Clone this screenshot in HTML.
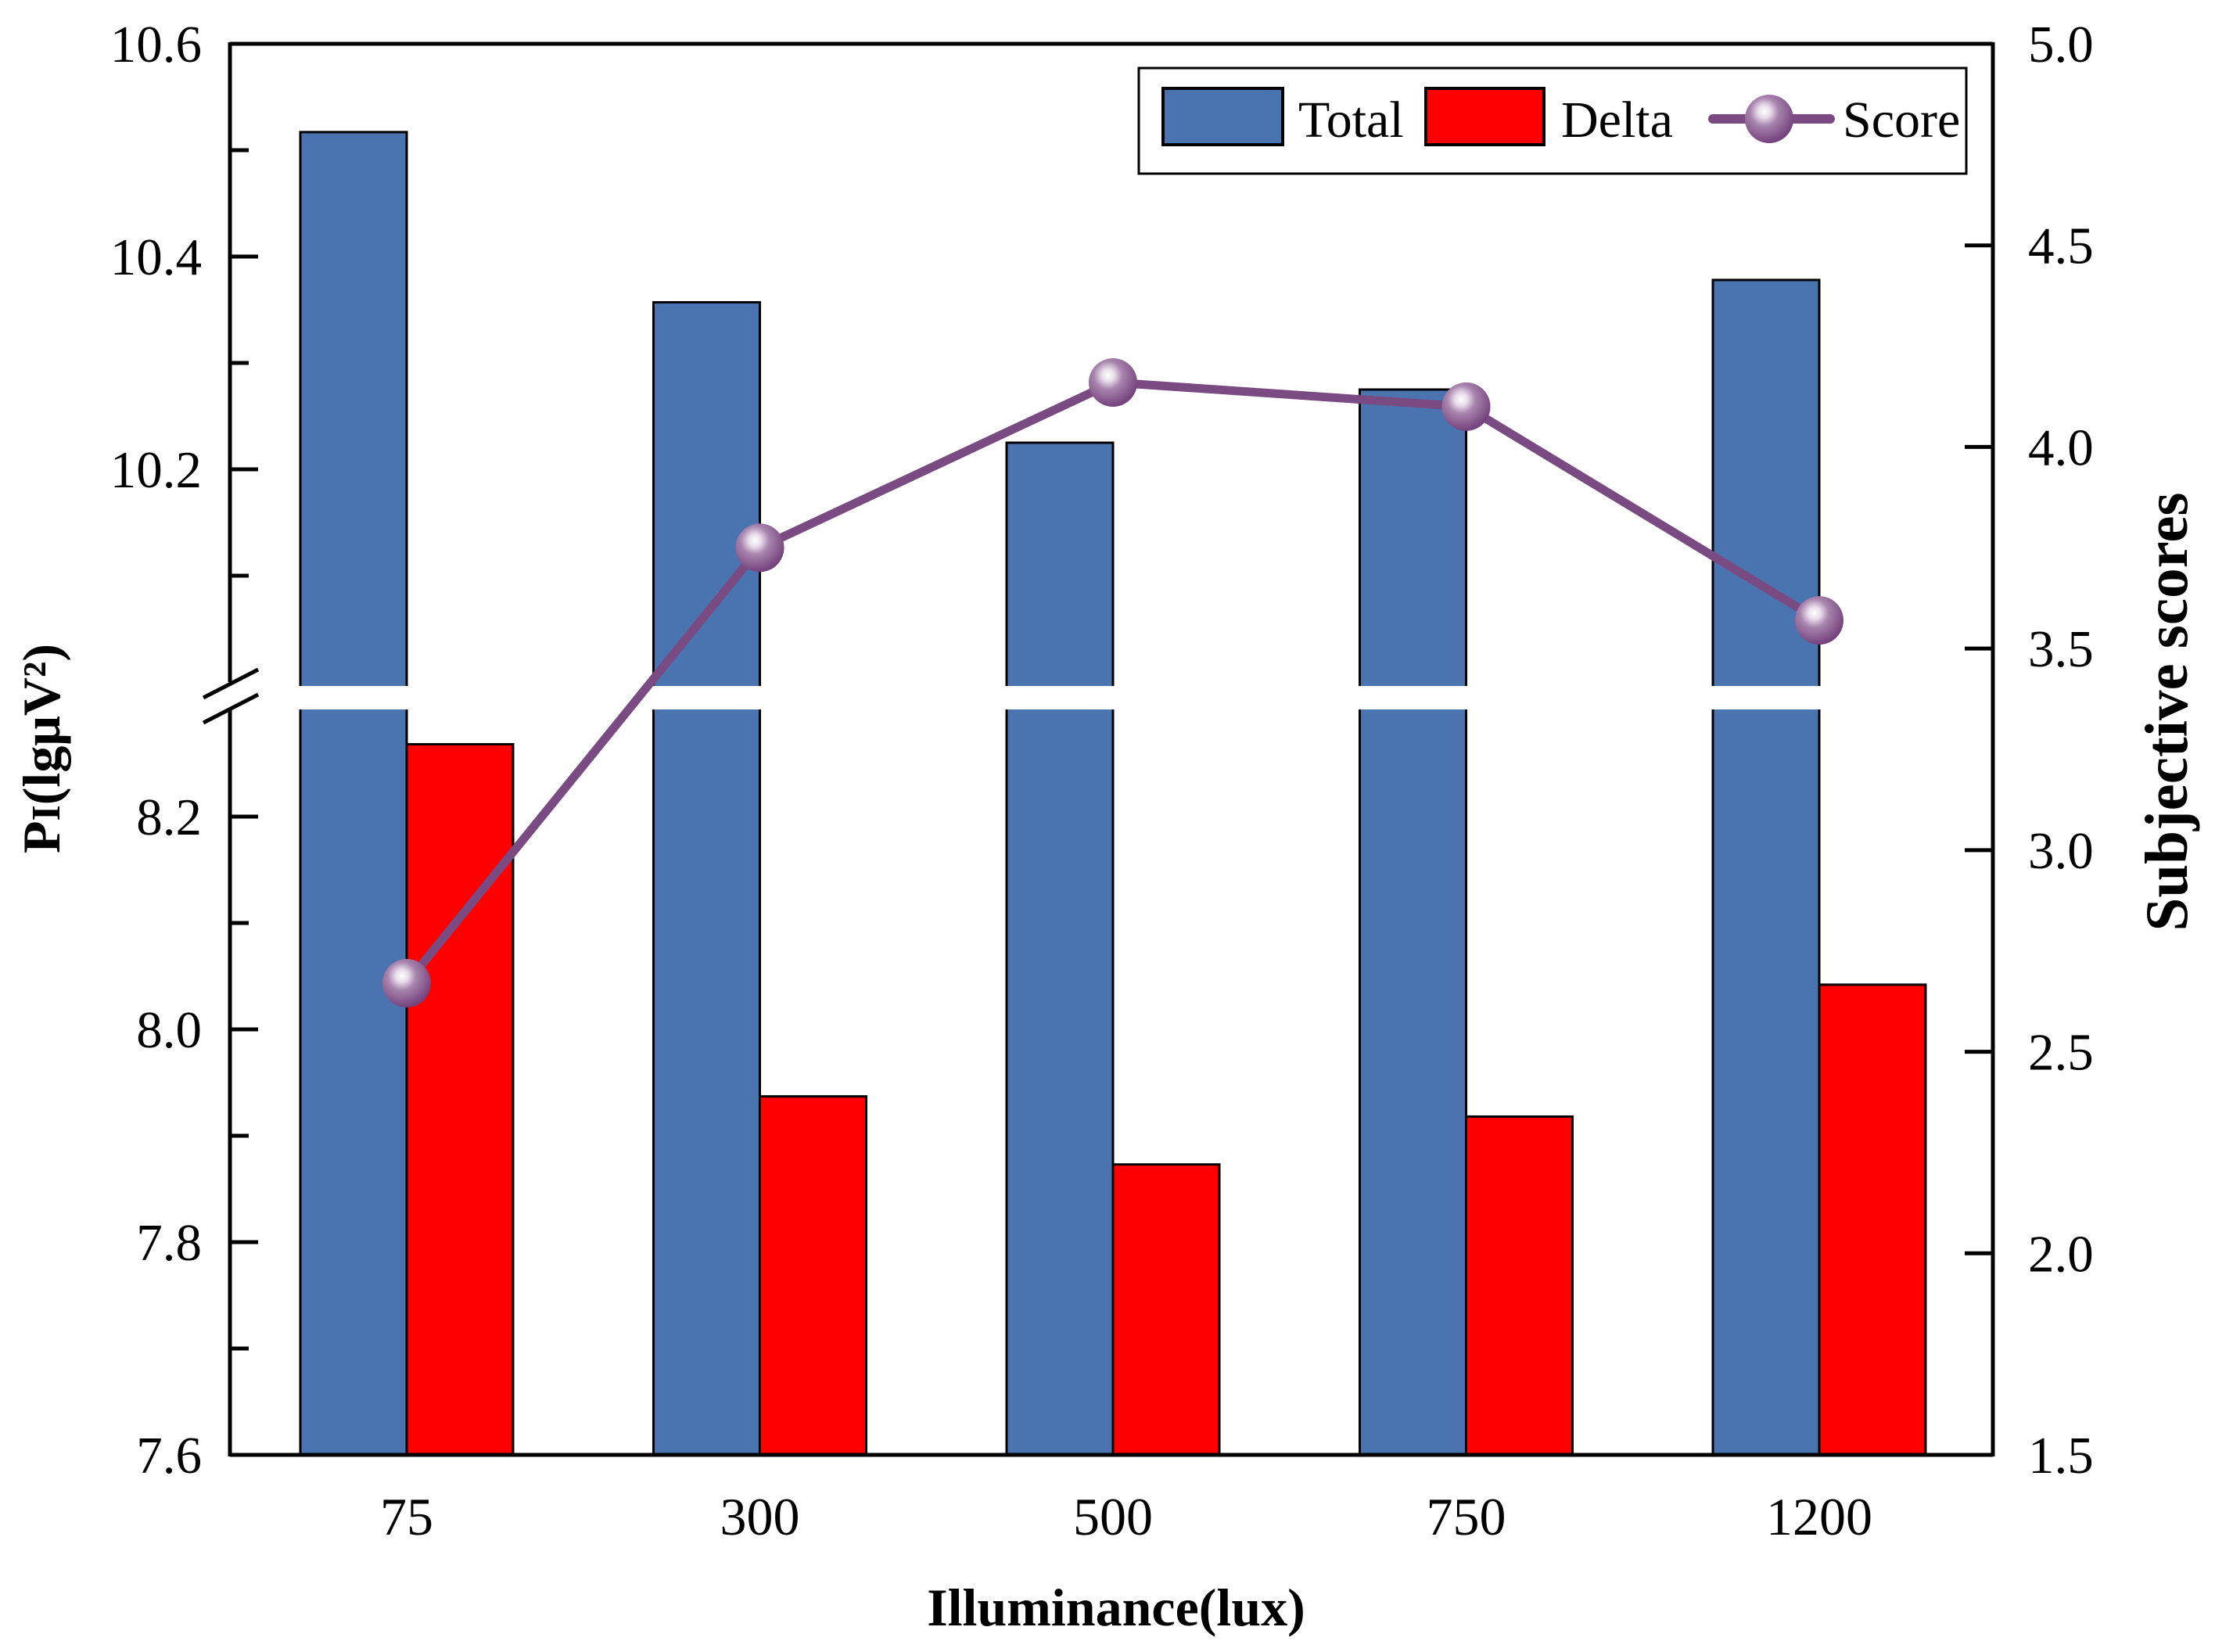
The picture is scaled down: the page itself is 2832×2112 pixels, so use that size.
<!DOCTYPE html>
<html><head><meta charset="utf-8"><style>
html,body{margin:0;padding:0;background:#fff}
svg{display:block}
text{font-family:"Liberation Serif",serif;fill:#000}
</style></head><body>
<svg id="chart" width="2832" height="2112" viewBox="0 0 2832 2112" xmlns="http://www.w3.org/2000/svg">
<defs>
<radialGradient id="mg" cx="0.4" cy="0.35" r="0.65">
<stop offset="0" stop-color="#ffffff"/><stop offset="0.2" stop-color="#e8dcea"/><stop offset="0.45" stop-color="#a884ae"/><stop offset="1" stop-color="#74427c"/>
</radialGradient>
</defs>
<g id="bars"></g>
<rect x="297" y="877" width="2248" height="30" fill="#fff"/>
<polyline id="score-line" fill="none" stroke="#7a4a82" stroke-width="11" stroke-linejoin="round"/>
<g id="markers"></g>
<g stroke="#000" stroke-width="5" fill="none">
<line x1="294" y1="56" x2="2548" y2="56"/>
<line x1="294" y1="1860" x2="2548" y2="1860"/>
<line x1="294" y1="54" x2="294" y2="872"/>
<line x1="294" y1="906" x2="294" y2="1862"/>
<line x1="2548" y1="54" x2="2548" y2="1862"/>
<line x1="260" y1="892" x2="330" y2="856"/>
<line x1="260" y1="924" x2="330" y2="888"/>
</g>
<g id="yleft"></g>
<g id="yright"></g>
<g id="xaxis"></g>
<text x="1427" y="2078" font-size="68" font-weight="bold" text-anchor="middle">Illuminance(lux)</text>
<text transform="translate(76,957) rotate(-90)" font-size="68" font-weight="bold" text-anchor="middle">P<tspan font-size="52">I</tspan>(lgμV²)</text>
<text transform="translate(2796,910) rotate(-90)" font-size="77" font-weight="bold" text-anchor="middle">Subjective scores</text>
<g>
<rect x="1456" y="87" width="1058" height="135" fill="#fff" stroke="#000" stroke-width="3"/>
<rect x="1487" y="113" width="153" height="72" fill="#4a74b0" stroke="#000" stroke-width="4"/>
<text x="1660" y="175" font-size="66">Total</text>
<rect x="1823" y="113" width="151" height="72" fill="#ff0000" stroke="#000" stroke-width="4"/>
<text x="1996" y="175" font-size="66">Delta</text>
<line x1="2190" y1="152" x2="2340" y2="152" stroke="#7a4a82" stroke-width="12" stroke-linecap="round"/>
<circle cx="2262" cy="152" r="31" fill="url(#mg)"/>
<text x="2356" y="175" font-size="66">Score</text>
</g>
</svg>
<script>
const categories = ["75","300","500","750","1200"];
const totalValues = [10.517, 10.357, 10.225, 10.275, 10.378];
const deltaValues = [8.268, 7.937, 7.873, 7.918, 8.042];
const scoreValues = [2.67, 3.75, 4.16, 4.10, 3.57];
const leftLowerTicks = ["7.6","7.8","8.0","8.2"];
const leftUpperTicks = ["10.2","10.4","10.6"];
const rightTicks = ["1.5","2.0","2.5","3.0","3.5","4.0","4.5","5.0"];

const NS="http://www.w3.org/2000/svg";
function mk(tag, attrs, parent){const e=document.createElementNS(NS,tag);for(const k in attrs)e.setAttribute(k,attrs[k]);parent.appendChild(e);return e;}
function yLeft(v){ return v>=9 ? 56+(10.6-v)*1360 : 1860-(v-7.6)*1360; }
function yRight(v){ return 1860-(v-1.5)*(1804/3.5); }
function xCat(i){ return 520+i*451.5; }
const BW=136;

const bars=document.getElementById('bars');
categories.forEach((c,i)=>{
  const cx=xCat(i);
  const t=mk('rect',{x:cx-BW,y:yLeft(totalValues[i]),width:BW,height:1860-yLeft(totalValues[i]),fill:'#4a74b0',stroke:'#000','stroke-width':3},bars);
  
  
  const d=mk('rect',{x:cx,y:yLeft(deltaValues[i]),width:BW,height:1860-yLeft(deltaValues[i]),fill:'#ff0000',stroke:'#000','stroke-width':3},bars);
  
  
});
document.getElementById('score-line').setAttribute('points',scoreValues.map((v,i)=>xCat(i)+','+yRight(v)).join(' '));
const mg=document.getElementById('markers');
scoreValues.forEach((v,i)=>{
  const m=mk('circle',{cx:xCat(i),cy:yRight(v),r:31,fill:'url(#mg)'},mg);
  
  
});
const yl=document.getElementById('yleft');
function leftTick(v,label){
  const y=yLeft(v);
  mk('line',{x1:294,y1:y,x2:(label?330:318),y2:y,stroke:'#000','stroke-width':5},yl);
  if(label){const t=mk('text',{x:258,y:y+23,'font-size':67,'text-anchor':'end'},yl);t.textContent=label;
  
  }
}
leftLowerTicks.forEach(s=>leftTick(parseFloat(s),s));
leftUpperTicks.forEach(s=>leftTick(parseFloat(s),s));
[7.7,7.9,8.1,10.1,10.3,10.5].forEach(v=>leftTick(v,null));
const yr=document.getElementById('yright');
rightTicks.forEach(s=>{
  const v=parseFloat(s),y=yRight(v);
  mk('line',{x1:2512,y1:y,x2:2548,y2:y,stroke:'#000','stroke-width':5},yr);
  const t=mk('text',{x:2593,y:y+23,'font-size':67},yr);t.textContent=s;
  
  
});
const xa=document.getElementById('xaxis');
categories.forEach((c,i)=>{
  const t=mk('text',{x:xCat(i),y:1962,'font-size':68,'text-anchor':'middle'},xa);t.textContent=c;
  
  
});
</script>
</body></html>
